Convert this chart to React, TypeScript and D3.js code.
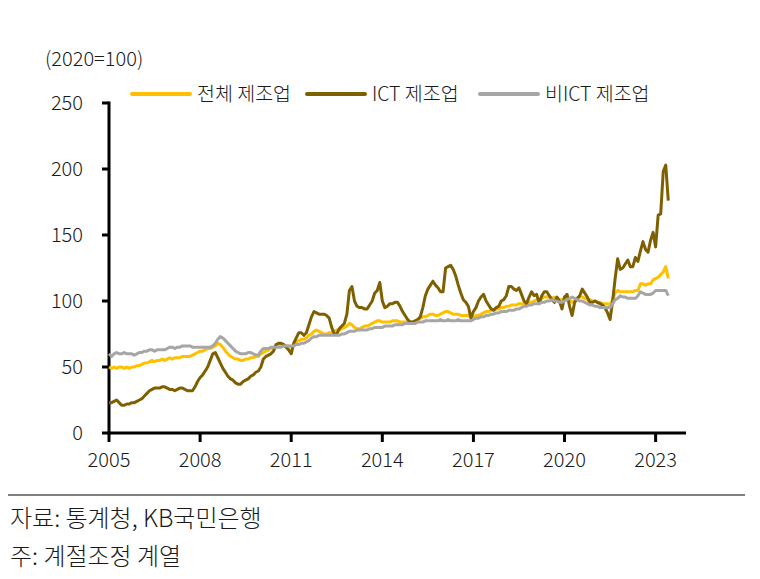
import React from 'react';
import * as d3 from 'd3';

// monthly index values, Jan 2005 .. Jun 2023 (2020=100)
const startYear = 2005;
const yTicks = [0, 50, 100, 150, 200, 250];
const xTicks = [2005, 2008, 2011, 2014, 2017, 2020, 2023];
const seriesNames = ['전체 제조업', 'ICT 제조업', '비ICT 제조업'];
const seriesColors = ['#FFC000', '#7F6000', '#A6A6A6'];

const total = [
  50, 49, 50, 49, 50, 50, 49, 50, 49, 50, 50, 51, // 2005
  51, 52, 53, 53, 54, 55, 54, 55, 55, 56, 55, 56, // 2006
  57, 56, 57, 57, 57, 58, 58, 58, 58, 59, 60, 61, // 2007
  62, 62, 63, 64, 64, 65, 66, 68, 67, 65, 62, 60, // 2008
  58, 57, 56, 56, 55, 55, 56, 56, 57, 57, 58, 58, // 2009
  60, 61, 62, 63, 64, 65, 65, 66, 66, 67, 66, 66, // 2010
  65, 67, 69, 70, 71, 71, 72, 74, 75, 77, 78, 77, // 2011
  76, 75, 75, 76, 76, 77, 78, 78, 79, 80, 81, 83, // 2012
  82, 80, 79, 79, 80, 81, 81, 82, 83, 84, 85, 85, // 2013
  84, 84, 84, 84, 85, 85, 85, 84, 84, 84, 84, 84, // 2014
  84, 85, 86, 87, 88, 88, 89, 90, 90, 89, 89, 90, // 2015
  91, 92, 92, 91, 90, 90, 90, 89, 89, 89, 89, 88, // 2016
  88, 89, 89, 90, 91, 92, 92, 93, 93, 94, 94, 95, // 2017
  95, 96, 96, 97, 97, 97, 98, 98, 98, 99, 99, 99, // 2018
  100, 101, 101, 102, 103, 103, 103, 102, 103, 102, 101, 101, // 2019
  102, 102, 101, 99, 100, 102, 103, 103, 102, 101, 101, 100, // 2020
  100, 99, 99, 98, 98, 98, 97, 101, 106, 108, 107, 107, // 2021
  107, 107, 107, 107, 108, 108, 113, 113, 112, 113, 113, 116, // 2022
  117, 118, 120, 122, 126, 117, // 2023
];

const ict = [
  23, 23, 24, 25, 23, 21, 21, 22, 22, 23, 23, 24, // 2005
  25, 26, 28, 30, 32, 33, 34, 34, 34, 35, 35, 34, // 2006
  33, 33, 32, 33, 34, 34, 33, 32, 32, 32, 35, 39, // 2007
  42, 44, 47, 50, 55, 60, 61, 57, 53, 49, 46, 43, // 2008
  41, 40, 38, 37, 37, 39, 40, 41, 43, 44, 46, 47, // 2009
  50, 56, 58, 59, 60, 62, 67, 68, 68, 67, 65, 63, // 2010
  60, 68, 72, 76, 76, 74, 76, 82, 88, 92, 91, 90, // 2011
  90, 90, 89, 87, 80, 75, 75, 79, 81, 83, 90, 108, // 2012
  111, 100, 96, 95, 95, 94, 94, 97, 100, 106, 108, 114, // 2013
  100, 95, 96, 98, 98, 99, 99, 96, 92, 89, 86, 84, // 2014
  84, 85, 86, 88, 95, 104, 109, 112, 115, 112, 110, 107, // 2015
  107, 125, 126, 127, 124, 119, 112, 106, 101, 99, 96, 87, // 2016
  92, 95, 100, 103, 105, 100, 97, 94, 93, 95, 96, 100, // 2017
  101, 104, 111, 111, 109, 108, 110, 105, 100, 98, 103, 107, // 2018
  104, 105, 98, 104, 107, 107, 104, 101, 99, 103, 100, 94, // 2019
  103, 105, 96, 89, 99, 102, 104, 109, 106, 103, 99, 99, // 2020
  100, 99, 98, 97, 95, 91, 86, 100, 117, 132, 124, 125, // 2021
  128, 131, 126, 126, 133, 130, 138, 145, 139, 137, 146, 152, // 2022
  141, 165, 166, 198, 203, 176, // 2023
];

const nonIct = [
  60, 58, 60, 61, 60, 60, 61, 60, 60, 60, 59, 60, // 2005
  61, 61, 62, 62, 63, 63, 62, 63, 63, 63, 63, 64, // 2006
  65, 65, 64, 65, 65, 66, 66, 66, 66, 65, 65, 65, // 2007
  65, 65, 65, 65, 65, 66, 68, 71, 73, 72, 70, 68, // 2008
  66, 64, 62, 61, 60, 60, 60, 61, 61, 60, 59, 59, // 2009
  62, 64, 64, 64, 65, 65, 65, 65, 65, 66, 66, 66, // 2010
  66, 66, 67, 67, 68, 68, 69, 70, 72, 73, 73, 74, // 2011
  74, 74, 74, 74, 74, 74, 74, 74, 75, 75, 76, 77, // 2012
  77, 77, 78, 78, 78, 78, 78, 79, 79, 80, 80, 80, // 2013
  80, 81, 81, 81, 81, 82, 82, 82, 82, 83, 83, 83, // 2014
  83, 83, 84, 84, 84, 85, 85, 85, 85, 85, 85, 86, // 2015
  85, 85, 86, 85, 85, 85, 86, 85, 85, 85, 85, 85, // 2016
  86, 87, 87, 88, 88, 89, 89, 90, 90, 91, 91, 92, // 2017
  92, 92, 93, 93, 93, 94, 94, 95, 96, 96, 97, 97, // 2018
  98, 98, 98, 99, 99, 100, 100, 101, 100, 100, 99, 99, // 2019
  100, 101, 102, 103, 102, 101, 100, 100, 99, 98, 97, 97, // 2020
  96, 96, 95, 95, 95, 95, 95, 98, 101, 102, 104, 103, // 2021
  103, 102, 102, 102, 102, 104, 107, 106, 105, 105, 105, 106, // 2022
  108, 108, 108, 108, 108, 104, // 2023
];

const width = 760;
const height = 579;
const margin = { left: 109, right: 74, top: 103, bottom: 146 };
const font = '"Noto Sans CJK KR", "Noto Sans", sans-serif';
const textColor = '#1a1a1a';

export default function App() {
  const x = d3.scaleLinear()
    .domain([2005, 2024])
    .range([margin.left, width - margin.right]);
  const y = d3.scaleLinear()
    .domain([0, 250])
    .range([height - margin.bottom, margin.top]);

  const line = d3.line<number>()
    .x((_, i) => x(startYear + i / 12))
    .y((d) => y(d));

  const series = [total, ict, nonIct];
  const legendX = [132, 307, 480];

  return (
    <div style={{ position: 'absolute', left: 0, top: 0 }}>
      <svg width={width} height={height} style={{ display: 'block', background: '#fff' }}
        fontFamily={font} fontWeight={300} fill={textColor}>
        <text x={45} y={57} fontSize={20} dominantBaseline="central">
          (2020=100)
        </text>

        {/* legend */}
        {seriesNames.map((name, i) => (
          <g key={name}>
            <line x1={legendX[i]} x2={legendX[i] + 58} y1={94} y2={94}
              stroke={seriesColors[i]} strokeWidth={4} strokeLinecap="round" />
            <text x={legendX[i] + 65} y={92} fontSize={19.5}
              dominantBaseline="central">{name}</text>
          </g>
        ))}

        {/* y axis */}
        {yTicks.map((t) => (
          <g key={t}>
            <line x1={margin.left - 7} x2={margin.left} y1={y(t)} y2={y(t)} stroke="#000" strokeWidth={3} />
            <text x={83} y={y(t) - 2} textAnchor="end" dominantBaseline="central" fontSize={20}>{t}</text>
          </g>
        ))}
        <line x1={margin.left} x2={margin.left} y1={y(250) - 1.5} y2={y(0) + 1.5} stroke="#000" strokeWidth={3} />

        {/* x axis */}
        {xTicks.map((t) => (
          <g key={t}>
            <line x1={x(t)} x2={x(t)} y1={y(0)} y2={y(0) + 9} stroke="#000" strokeWidth={3} />
            <text x={x(t)} y={467} textAnchor="middle" fontSize={20}>{t}</text>
          </g>
        ))}
        <line x1={margin.left - 1.5} x2={x(2024)} y1={y(0)} y2={y(0)} stroke="#000" strokeWidth={3} />

        {/* series */}
        {series.map((s, i) => (
          <path key={i} d={line(s) || ''} fill="none" stroke={seriesColors[i]}
            strokeWidth={3} strokeLinejoin="round" />
        ))}

        {/* footer */}
        <line x1={8} x2={745} y1={495} y2={495} stroke="#000" strokeWidth={1.2} />
        <text x={10} y={516} fontSize={24} dominantBaseline="central">
          자료: 통계청, KB국민은행
        </text>
        <text x={10} y={554} fontSize={24} dominantBaseline="central">
          주: 계절조정 계열
        </text>
      </svg>
    </div>
  );
}
